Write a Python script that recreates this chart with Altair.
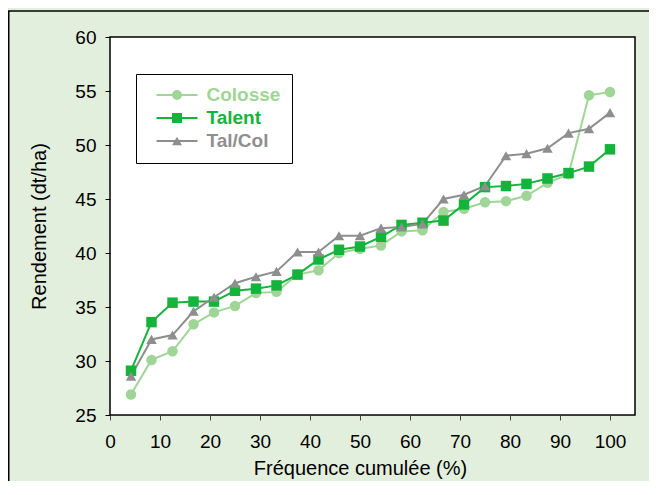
import altair as alt
import pandas as pd

# ---- data ----
freq = [4.2, 8.3, 12.5, 16.7, 20.8, 25.0, 29.2, 33.3, 37.5, 41.7, 45.8, 50.0,
        54.2, 58.3, 62.5, 66.7, 70.8, 75.0, 79.2, 83.3, 87.5, 91.7, 95.8, 100.0]
colosse = [26.9, 30.1, 30.9, 33.4, 34.5, 35.1, 36.3, 36.4, 38.0, 38.4, 40.0, 40.4,
           40.7, 42.0, 42.1, 43.8, 44.1, 44.7, 44.8, 45.3, 46.5, 47.3, 54.6, 54.9]
talent = [29.1, 33.6, 35.4, 35.5, 35.5, 36.5, 36.7, 37.0, 38.0, 39.4, 40.3, 40.6,
          41.5, 42.6, 42.8, 43.0, 44.5, 46.1, 46.2, 46.4, 46.9, 47.4, 48.0, 49.6]
talcol = [28.6, 32.0, 32.4, 34.6, 35.9, 37.2, 37.8, 38.3, 40.1, 40.1, 41.6, 41.6,
          42.3, 42.4, 42.7, 45.0, 45.4, 46.2, 49.0, 49.2, 49.7, 51.1, 51.5, 53.0]

series = ["Colosse", "Talent", "Tal/Col"]
colors = ["#9fd596", "#14b33c", "#8e8e8e"]
shapes = ["circle", "square", "triangle-up"]
x_ticks = [0, 10, 20, 30, 40, 50, 60, 70, 80, 90, 100]
y_ticks = [25, 30, 35, 40, 45, 50, 55, 60]

rows = []
for name, vals in zip(series, [colosse, talent, talcol]):
    for f, v in zip(freq, vals):
        rows.append({"freq": f, "val": v, "series": name})
df = pd.DataFrame(rows)

FONT = "Liberation Sans"


def per_series_expr(values):
    expr = f"'{values[-1]}'"
    for s, v in reversed(list(zip(series[:-1], values[:-1]))):
        expr = f"datum.value === '{s}' ? '{v}' : ({expr})"
    return alt.ExprRef(expr=expr)


# shared legend layout (two legends drawn on top of each other:
# one with the line segments and the frame, one with the markers and labels)
legend_common = dict(
    title=None,
    values=series,
    orient="none",
    legendX=26,
    legendY=37,
    padding=11.5,
    symbolSize=100,
    symbolStrokeWidth=2,
    symbolOffset=20,
    labelOffset=20,
    labelFont=FONT,
    labelFontSize=19,
    labelFontWeight="bold",
    labelLimit=300,
    rowPadding=3,
)
line_legend = alt.Legend(
    fillColor="white",
    strokeColor="black",
    symbolType="M-4.1,0H4.1",
    labelOpacity=0,
    zindex=1,
    **legend_common,
)
marker_legend = alt.Legend(
    labelColor=per_series_expr(colors),
    symbolOpacity=1,
    zindex=2,
    **legend_common,
)

x_enc = alt.X(
    "freq:Q",
    scale=alt.Scale(domain=[0, 105], nice=False, zero=False),
    axis=alt.Axis(
        values=x_ticks,
        title="Fréquence cumulée (%)",
        grid=False,
        domain=False,
        labelFlush=False,
        tickColor="#444444",
        tickSize=5,
        labelFont=FONT,
        labelFontSize=19,
        labelColor="black",
        labelPadding=12,
        titleFont=FONT,
        titleFontSize=20,
        titleFontWeight="normal",
        titleColor="black",
        titleX=250,
        titleY=43,
    ),
)
y_enc = alt.Y(
    "val:Q",
    scale=alt.Scale(domain=[25, 60], nice=False, zero=False),
    axis=alt.Axis(
        values=y_ticks,
        title="Rendement (dt/ha)",
        grid=False,
        domain=False,
        labelFlush=False,
        tickColor="black",
        tickSize=5,
        labelFont=FONT,
        labelFontSize=19,
        labelColor="black",
        labelPadding=9,
        titleFont=FONT,
        titleFontSize=20,
        titleFontWeight="normal",
        titleColor="black",
        titleX=-61,
        titleY=189,
    ),
)

base = alt.Chart(df)
lines = base.mark_line(strokeWidth=2).encode(
    x=x_enc,
    y=y_enc,
    stroke=alt.Stroke(
        "series:N",
        scale=alt.Scale(domain=series + [" "], range=colors + ["#000000"]),
        legend=line_legend,
    ),
    detail="series:N",
)
points = base.mark_point(filled=True, size=110, opacity=1).encode(
    x=x_enc,
    y=y_enc,
    color=alt.Color("series:N", scale=alt.Scale(domain=series, range=colors), legend=marker_legend),
    shape=alt.Shape("series:N", scale=alt.Scale(domain=series, range=shapes), legend=marker_legend),
)

frame = alt.Chart(pd.DataFrame({"k": [0]})).mark_rect(
    fillOpacity=0, stroke="black", strokeWidth=1.5
).encode(
    x=alt.value(-101.25), x2=alt.value(700), y=alt.value(-26), y2=alt.value(600)
)

chart = (
    alt.layer(frame, lines, points)
    .properties(
        width=525,
        height=378,
        background="#e3efdd",
        autosize=alt.AutoSizeParams(type="none"),
        padding={"left": 102, "top": 29, "right": 14, "bottom": 66},
    )
    .configure(font=FONT)
    .configure_view(stroke="black", strokeWidth=1.5, fill="white")
)

chart.save("out.html", embed_options={"renderer": "svg", "actions": False})
